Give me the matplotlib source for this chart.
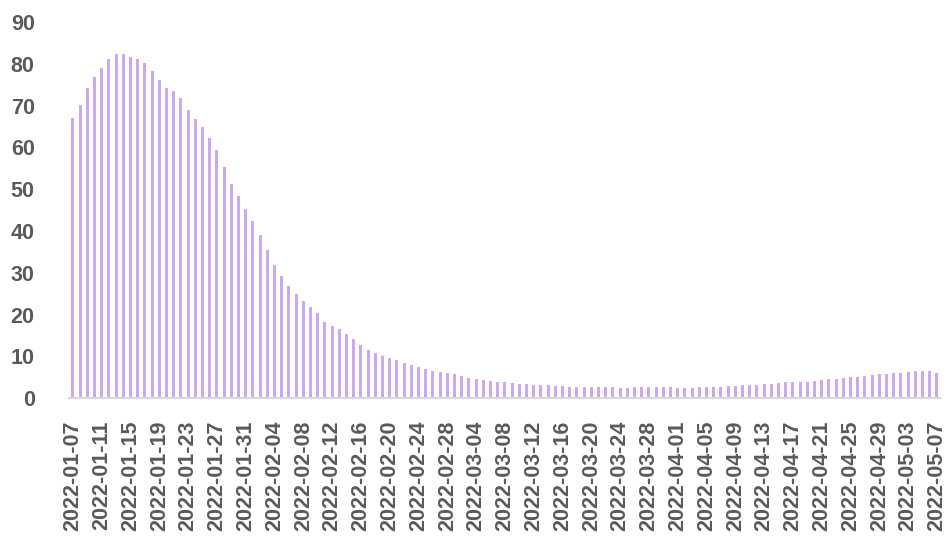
import matplotlib
matplotlib.use("Agg")
import matplotlib.pyplot as plt
import pandas as pd

dates = [d.strftime("%Y-%m-%d") for d in pd.date_range("2022-01-07", "2022-05-07", freq="D")]

values = [
    67.0, 70.2, 74.1, 76.7, 78.9, 81.2, 82.4, 82.3, 81.7, 81.1,
    80.1, 78.3, 76.2, 74.1, 73.4, 71.8, 68.9, 66.8, 64.9, 62.2,
    59.3, 55.2, 51.3, 48.3, 45.2, 42.4, 39.1, 35.4, 31.9, 29.2,
    26.8, 24.9, 23.3, 21.9, 20.3, 18.3, 17.3, 16.5, 15.4, 14.2,
    12.7, 11.5, 10.8, 10.1, 9.6, 9.2, 8.5, 8.0, 7.5, 7.0,
    6.5, 6.2, 6.0, 5.8, 5.4, 4.9, 4.5, 4.3, 4.1, 4.0,
    3.8, 3.7, 3.5, 3.4, 3.3, 3.2, 3.1, 3.0, 2.9, 2.8,
    2.7, 2.6, 2.6, 2.6, 2.6, 2.6, 2.55, 2.55, 2.6, 2.6,
    2.6, 2.6, 2.6, 2.6, 2.55, 2.55, 2.55, 2.6, 2.6, 2.6,
    2.8, 2.9, 3.0, 3.1, 3.2, 3.3, 3.4, 3.5, 3.7, 3.8,
    3.9, 4.0, 4.0, 4.2, 4.4, 4.5, 4.6, 4.8, 5.0, 5.2,
    5.3, 5.6, 5.7, 5.9, 6.0, 6.1, 6.3, 6.5, 6.5, 6.5,
    6.1,
]

yticks = [0, 10, 20, 30, 40, 50, 60, 70, 80, 90]
tick_step = 4

plt.rcParams['font.family'] = ['Liberation Sans', 'DejaVu Sans']

fig = plt.figure(figsize=(9.5, 5.44), dpi=100)
ax = fig.add_axes([0.073, 0.2678, 0.917, 0.692])

x = list(range(len(dates)))
ax.bar(x, values, width=0.42, color='#CDA8EB', linewidth=0, zorder=2)

ax.set_xlim(-0.5, len(dates) - 0.5)
ax.set_ylim(0, 90)
ax.set_yticks(yticks)
ax.set_yticklabels([str(t) for t in yticks])
ax.set_xticks(x[::tick_step])
ax.set_xticklabels(dates[::tick_step], rotation=90, ha='center', va='top')

for s in ['top', 'right', 'left']:
    ax.spines[s].set_visible(False)
ax.spines['bottom'].set_color('#D9D9D9')
ax.spines['bottom'].set_linewidth(1.5)
ax.spines['bottom'].set_zorder(3)

ax.tick_params(axis='y', length=0, pad=25, labelsize=15.5, labelcolor='#5A5A5A')
ax.tick_params(axis='x', length=0, pad=16, labelsize=15.5, labelcolor='#5A5A5A')
for lbl in ax.get_xticklabels() + ax.get_yticklabels():
    lbl.set_fontweight('bold')

fig.savefig("out.png", dpi=100)
